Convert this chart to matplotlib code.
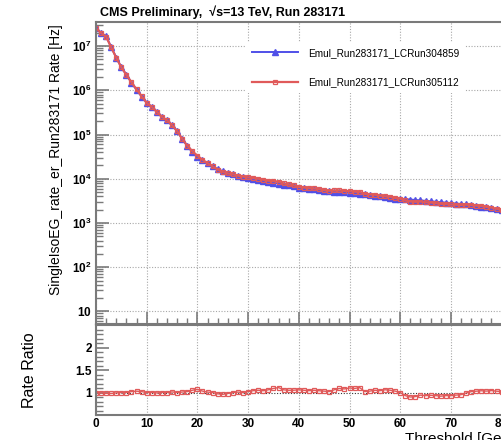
import numpy as np
import matplotlib
matplotlib.use("Agg")
import matplotlib.pyplot as plt
from matplotlib.ticker import MultipleLocator, LogLocator, FuncFormatter, NullFormatter

plt.rcParams['font.family'] = ['Liberation Sans', 'DejaVu Sans']
plt.rcParams['mathtext.fontset'] = 'custom'
plt.rcParams['mathtext.rm'] = 'Liberation Sans'
plt.rcParams['mathtext.bf'] = 'Liberation Sans:bold'

# threshold bins [GeV]
threshold = list(range(0, 86))

rate_304859 = [
    2.5e7, 2.0e7, 1.66e7, 9.5e6, 5.5e6, 3.3e6, 2.24e6, 1.48e6, 1.02e6, 7.2e5,
    5.2e5, 4.2e5, 3.3e5, 2.5e5, 2.1e5, 1.6e5, 1.2e5, 7.9e4, 5.5e4, 4.0e4,
    3.1e4, 2.6e4, 2.24e4, 1.9e4, 1.66e4, 1.48e4, 1.35e4, 1.26e4, 1.17e4, 1.12e4,
    1.05e4, 1.0e4, 9550, 9120, 8510, 8130, 7760, 7410, 7080, 6760,
    6170, 6030, 5890, 5750, 5620, 5370, 5250, 5130, 5010, 4900,
    4790, 4680, 4570, 4470, 4270, 4170, 3980, 3800, 3720, 3550,
    3550, 3470, 3390, 3310, 3240, 3160, 3090, 3020, 2950, 2880,
    2820, 2750, 2690, 2630, 2510, 2400, 2340, 2240, 2140, 2040,
    1950, 1860, 1780, 1700, 1620, 1550,
]

rate_305112 = [
    2.5e7, 1.98e7, 1.63e7, 9.3e6, 5.45e6, 3.3e6, 2.24e6, 1.51e6, 1.05e6, 7.34e5,
    5.2e5, 4.2e5, 3.27e5, 2.5e5, 2.1e5, 1.62e5, 1.2e5, 7.98e4, 5.61e4, 4.2e4,
    3.32e4, 2.68e4, 2.26e4, 1.9e4, 1.61e4, 1.42e4, 1.32e4, 1.26e4, 1.18e4, 1.12e4,
    1.071e4, 1.04e4, 10030, 9480, 9020, 8860, 8610, 7850, 7430, 7100,
    6540, 6330, 6130, 6040, 5840, 5530, 5360, 5440, 5460, 5290,
    5270, 5100, 5070, 4560, 4400, 4380, 4140, 4030, 3910, 3660,
    3550, 3230, 3050, 3010, 3050, 2940, 2900, 2810, 2710, 2680,
    2620, 2590, 2560, 2600, 2560, 2470, 2430, 2310, 2230, 2100,
    1990, 1880, 1780, 1700, 1620, 1550,
]

labels = ["Emul_Run283171_LCRun304859", "Emul_Run283171_LCRun305112"]

blue = '#5050e8'
red = '#e05a5a'
frame = '#7a7a7a'

x = np.array(threshold)
r1 = np.array(rate_304859)
r2 = np.array(rate_305112)
ratio = r2 / r1

fig = plt.figure(figsize=(5.01, 4.40), dpi=100)
W = 507 / 501
ax1 = fig.add_axes([96 / 501, 116 / 440, W, 302 / 440])
ax2 = fig.add_axes([96 / 501, 25 / 440, W, 90 / 440])

# ---- top panel ----
ax1.plot(x, r1, color=blue, lw=1.4, marker='^', ms=4.5, mfc=blue, mec=blue, label=labels[0])
ax1.plot(x, r2, color=red, lw=1.6, marker='s', ms=3.5, mfc='none', mec=red, mew=0.9, label=labels[1])
ax1.set_yscale('log')
ax1.set_xlim(0, 100)
ax1.set_ylim(5.2, 3.5e7)

def logfmt(v, pos):
    if abs(v - 10) < 1e-6:
        return r'$\mathbf{10}$'
    return r'$\mathbf{10^{%d}}$' % int(round(np.log10(v)))

ax1.yaxis.set_major_locator(LogLocator(base=10, numticks=20))
ax1.yaxis.set_minor_locator(LogLocator(base=10, subs=np.arange(2, 10), numticks=20))
ax1.yaxis.set_major_formatter(FuncFormatter(logfmt))
ax1.yaxis.set_minor_formatter(NullFormatter())
ax1.xaxis.set_major_locator(MultipleLocator(10))
ax1.xaxis.set_minor_locator(MultipleLocator(2))
ax1.tick_params(axis='x', which='both', labelbottom=False)
ax1.grid(True, which='major', color='#a8a8a8', ls=(0, (1, 1.5)), lw=0.8)

leg = ax1.legend(loc='upper left', bbox_to_anchor=(246 / 501, 1 - 42 / 440), bbox_transform=fig.transFigure,
                 frameon=True, fancybox=False, edgecolor='none', facecolor='white', framealpha=1,
                 fontsize=7.2, handlelength=4.6, handletextpad=1.0, labelspacing=1.95,
                 borderpad=0.6, borderaxespad=0)

# ---- ratio panel ----
ax2.plot(x, ratio, color=red, lw=1.0, marker='s', ms=3.5, mfc='none', mec=red, mew=0.9)
ax2.axhline(1.0, color='#333333', ls=(0, (1, 1.5)), lw=0.8, zorder=0.5)
ax2.set_xlim(0, 100)
ax2.set_ylim(0.5, 2.5)
ax2.xaxis.set_major_locator(MultipleLocator(10))
ax2.yaxis.set_major_locator(MultipleLocator(0.5))
ax2.yaxis.set_minor_locator(MultipleLocator(0.1))
ax2.yaxis.set_major_formatter(FuncFormatter(
    lambda v, p: '' if v < 0.9 or v > 2.1 else ('%g' % v)))
ax2.grid(True, axis='x', which='major', color='#a8a8a8', ls=(0, (1, 1.5)), lw=0.8)

for ax in (ax1, ax2):
    for s in ax.spines.values():
        s.set_color(frame)
        s.set_linewidth(1.5)
    ax.tick_params(axis='both', which='major', direction='in', length=9, width=1.2,
                   color=frame, labelsize=8.5, pad=3)
    ax.tick_params(axis='y', which='minor', direction='in', length=5, width=1.0, color=frame)
    ax.tick_params(axis='x', which='minor', direction='in', length=4, width=1.0, color=frame)
    ax.tick_params(top=False, right=False, which='both')
    for t in ax.get_xticklabels() + ax.get_yticklabels():
        t.set_fontweight('bold')
ax2.tick_params(axis='x', which='both', length=0, pad=2)

# texts
fig.text(100 / 501, 1 - 12 / 440, "CMS Preliminary,  \u221as=13 TeV, Run 283171",
         fontsize=9, fontweight='bold', ha='left', va='center')
fig.text(56 / 501, 1 - 160 / 440, "SingleIsoEG_rate_er_Run283171 Rate [Hz]",
         fontsize=10, rotation=90, ha='center', va='center')
fig.text(30 / 501, 1 - 370 / 440, "Rate Ratio", fontsize=11.5, rotation=90,
         ha='center', va='center')
fig.text(405 / 501, 1 - 443 / 440, "Threshold [GeV]", fontsize=11, ha='left', va='baseline')

fig.savefig("out.png", dpi=100)
